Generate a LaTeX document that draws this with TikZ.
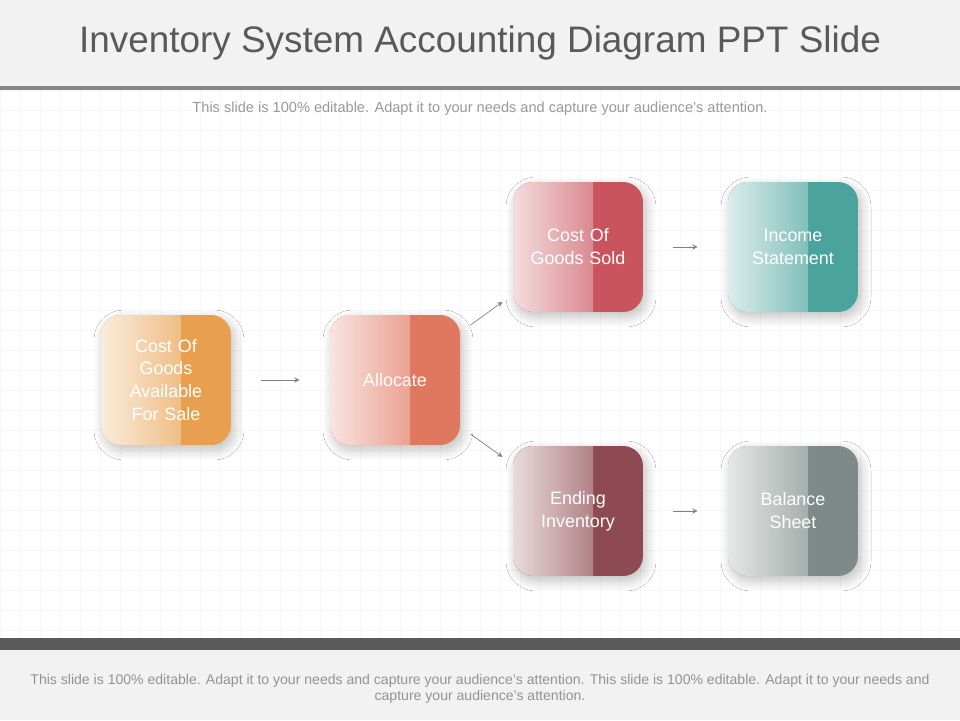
\documentclass[tikz,border=0pt]{standalone}
\usepackage{fontspec}
\setmainfont{Liberation Sans}
\usetikzlibrary{shadows.blur}

\definecolor{orangebox}{HTML}{E8A050}
\definecolor{salmonbox}{HTML}{E07860}
\definecolor{redbox}{HTML}{C9545E}
\definecolor{tealbox}{HTML}{4AA39C}
\definecolor{wine}{HTML}{8E4A52}
\definecolor{slate}{HTML}{7E8A87}
\definecolor{textgray}{HTML}{595959}

\tikzset{
  stepbox/.style={minimum width=2.6cm, minimum height=2.6cm, rounded corners=0.4cm,
    text width=2.2cm, align=center, text=white, font=\fontsize{10.2}{13}\selectfont,
    blur shadow={shadow xshift=0.06cm, shadow yshift=-0.1cm, shadow blur steps=10, shadow blur radius=0.2cm, shadow opacity=25},
    fill=#1,
    path picture={\shade[sharp corners, left color=#1!20!white, right color=#1]
      (path picture bounding box.south west) rectangle ([xshift=-1.0cm]path picture bounding box.north east);}},
  flow/.style={->, >=stealth, gray, thin, shorten >=0.6cm, shorten <=0.6cm}
}

\begin{document}
\begin{tikzpicture}[x=0.02cm,y=-0.02cm]
\useasboundingbox (0,0) rectangle (960,720);
\fill[white] (0,0) rectangle (960,720);
\foreach \i in {0,20,...,960} {
\draw[gray!6] (\i,90) -- (\i,640);
}
\foreach \j in {90,110,...,640} {
\draw[gray!6] (0,\j) -- (960,\j);
}
\fill[gray!10] (0,0) rectangle (960,86);
\fill[gray!95!white] (0,86) rectangle (960,90);
\node[text=textgray, font=\fontsize{21}{24}\selectfont] (title) at (480,43) {Inventory System Accounting Diagram PPT Slide};
\node[text=gray!80, font=\fontsize{8.3}{10}\selectfont] (sub) at (480,109) {This slide is 100\% editable. Adapt it to your needs and capture your audience's attention.};

\fill[textgray] (0,638) rectangle (960,650);
\fill[gray!10] (0,650) rectangle (960,720);
\node[text=gray!85, align=center, font=\fontsize{8}{9}\selectfont] (foot) at (480,689)
{This slide is 100\% editable. Adapt it to your needs and capture your audience's attention. This slide is 100\% editable. Adapt it to your needs and\\capture your audience's attention.};

\node[stepbox=orangebox] (avail) at (166,380) {Cost Of Goods Available For Sale};
\node[stepbox=salmonbox] (alloc) at (395,380) {Allocate};
\node[stepbox=redbox] (cogs) at (578,247) {Cost Of\\Goods Sold};
\node[stepbox=tealbox] (income) at (793,247) {Income\\Statement};
\node[stepbox=wine] (ending) at (578,511) {Ending\\Inventory};
\node[stepbox=slate] (balance) at (793,511) {Balance\\Sheet};

\draw[flow] (avail) -- (alloc);
\draw[flow, shorten >=0.25cm, shorten <=0.25cm] (alloc) -- (cogs);
\draw[flow, shorten >=0.25cm, shorten <=0.25cm] (alloc) -- (ending);
\draw[flow] (cogs) -- (income);
\draw[flow] (ending) -- (balance);

\end{tikzpicture}
\end{document}
